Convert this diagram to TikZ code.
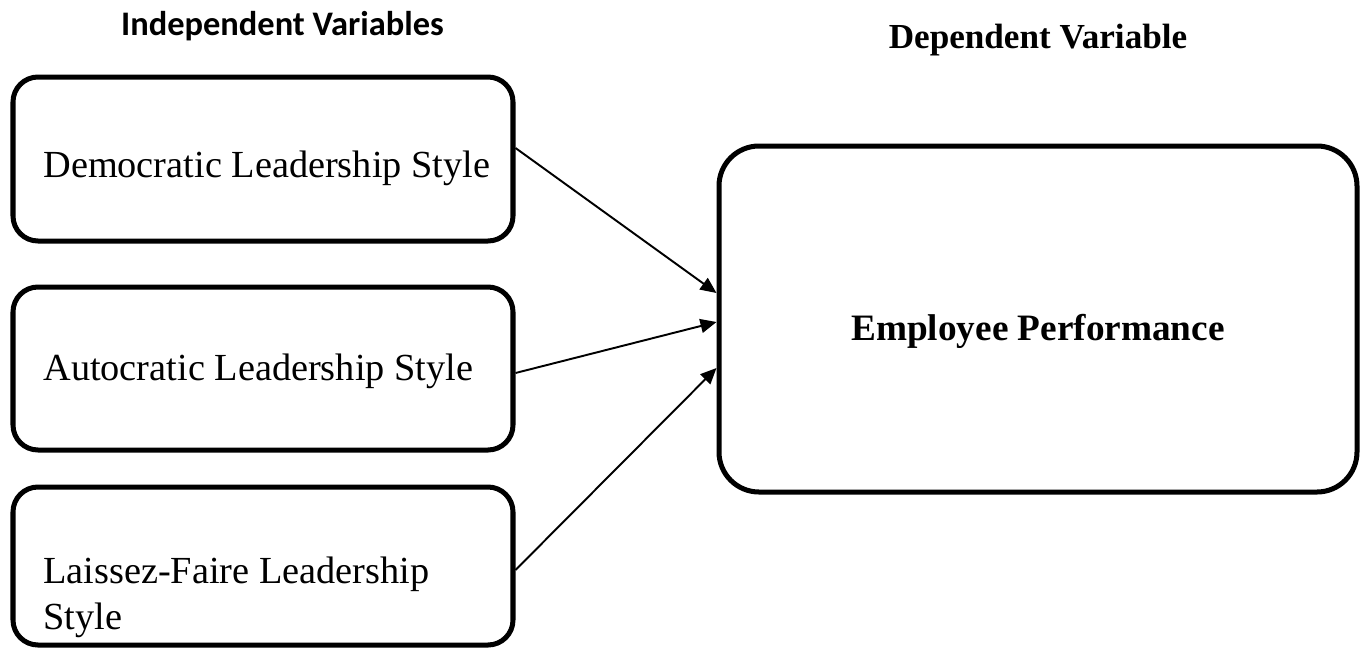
\documentclass[tikz,border=0pt]{standalone}
\usepackage{fontspec}
\setmainfont{Liberation Serif}
\newfontfamily\headfont{Carlito}
\usetikzlibrary{arrows.meta}

\begin{document}
\begin{tikzpicture}[
    varbox/.style={draw=black, line width=2.85pt, rounded corners=0.5cm,
      minimum width=10cm, inner sep=0pt},
    boxtext/.style={anchor=base west, inner sep=0pt, align=left,
      font=\fontsize{21.8}{26}\selectfont},
    link/.style={line width=1.1pt, -{Triangle[length=0.32cm, width=0.28cm]}}
  ]
  \useasboundingbox (0, 0) rectangle (27.38, -12.98);
  % Headings
  \node[anchor=base, inner sep=0pt, font=\headfont\bfseries\fontsize{19.6}{24}\selectfont]
    (indep) at (5.65, -0.70) {Independent Variables};
  \node[anchor=base, inner sep=0pt, font=\bfseries\fontsize{20}{24}\selectfont]
    (dep) at (20.76, -0.96) {Dependent Variable};
  % Leadership styles
  \node[varbox, minimum height=3.28cm] (demo) at (5.26, -3.18) {};
  \node[boxtext] (demotext) at (0.86, -3.54) {Democratic Leadership Style};
  \node[varbox, minimum height=3.26cm] (auto) at (5.26, -7.37) {};
  \node[boxtext] (autotext) at (0.86, -7.60) {Autocratic Leadership Style};
  \node[varbox, minimum height=3.16cm] (laissez) at (5.26, -11.32) {};
  \node[boxtext] (laisseztext) at (0.86, -12.58) {Laissez-Faire Leadership\\Style};
  % Performance
  \node[varbox, rounded corners=0.8cm, minimum width=12.76cm, minimum height=6.92cm]
    (perf) at (20.76, -6.38) {};
  \node[anchor=base, inner sep=0pt, font=\bfseries\fontsize{21.2}{26}\selectfont]
    (perftext) at (20.76, -6.80) {Employee Performance};
  % Links
  \draw[link] ([yshift=0.22cm]demo.east) -- ([yshift=0.52cm]perf.west);
  \draw[link] ([yshift=-0.09cm]auto.east) -- ([yshift=-0.06cm]perf.west);
  \draw[link] ([yshift=-0.08cm]laissez.east) -- ([yshift=-0.98cm]perf.west);
\end{tikzpicture}
\end{document}
